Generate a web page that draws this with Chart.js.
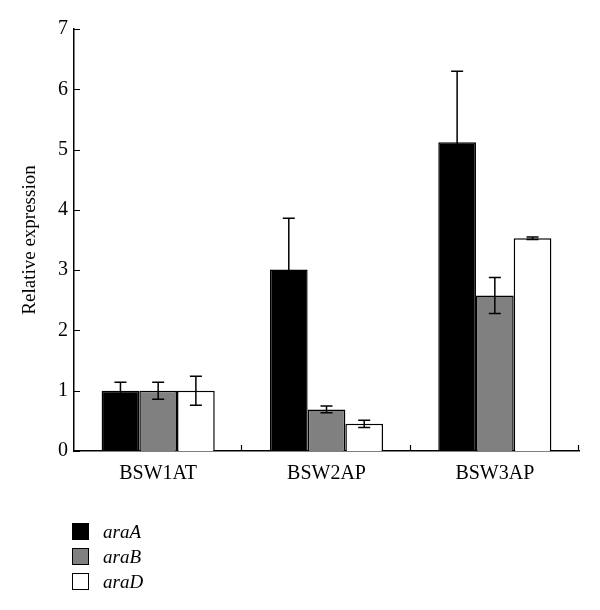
<!DOCTYPE html>
<html>
<head>
<meta charset="utf-8">
<script src="https://cdn.jsdelivr.net/npm/chart.js@4.4.1/dist/chart.umd.min.js"></script>
<style>
    body { margin: 0; background: #ffffff; }
    #caja { position: relative; width: 600px; height: 610px; }
    #leyenda { position: absolute; left: 72px; top: 519px; font-family: 'Liberation Serif', serif; font-style: italic; font-size: 19px; color: #000000; }
    .fila { display: flex; align-items: center; height: 25px; }
    .cuadro { width: 15px; height: 15px; border: 1px solid #000000; margin-right: 14px; }
</style>
</head>
<body>
<div id="caja">
    <canvas id="grafica"></canvas>
    <div id="leyenda"></div>
</div>
<script>
const categorias = ['BSW1AT', 'BSW2AP', 'BSW3AP'];
const genes = ['araA', 'araB', 'araD'];
const colores = ['#000000', '#808080', '#ffffff'];

// Valores medios y desviaciones
const araA = [1.0, 3.01, 5.12];
const araB = [1.0, 0.69, 2.58];
const araD = [1.0, 0.45, 3.53];
const errA = [0.14, 0.85, 1.18];
const errB = [0.14, 0.055, 0.30];
const errD = [0.24, 0.06, 0.02];

const yTicks = [0, 1, 2, 3, 4, 5, 6, 7];

const valores = [araA, araB, araD];
const errores = [errA, errB, errD];

const fuente = "'Liberation Serif', serif";

// Barras de error y marcas de los ejes hacia dentro
const extras = {
    id: 'extras',
    afterDatasetsDraw(chart) {
        const ctx = chart.ctx;
        const y = chart.scales.y;
        ctx.save();
        ctx.strokeStyle = '#000000';
        ctx.lineWidth = 1.5;
        chart.data.datasets.forEach(function (ds, i) {
            const meta = chart.getDatasetMeta(i);
            meta.data.forEach(function (barra, j) {
                const v = ds.data[j];
                const e = ds.errores[j];
                const arriba = y.getPixelForValue(v + e);
                const abajo = y.getPixelForValue(v - e);
                ctx.beginPath();
                ctx.moveTo(barra.x, arriba);
                ctx.lineTo(barra.x, abajo);
                ctx.moveTo(barra.x - 6, arriba);
                ctx.lineTo(barra.x + 6, arriba);
                ctx.moveTo(barra.x - 6, abajo);
                ctx.lineTo(barra.x + 6, abajo);
                ctx.stroke();
            });
        });
        ctx.restore();
    },
    afterDraw(chart) {
        const ctx = chart.ctx;
        const x = chart.scales.x;
        const y = chart.scales.y;
        const area = chart.chartArea;
        ctx.save();
        ctx.strokeStyle = '#000000';
        ctx.lineWidth = 1.2;
        ctx.beginPath();
        y.ticks.forEach(function (t) {
            const py = Math.round(y.getPixelForValue(t.value)) + 0.5;
            ctx.moveTo(area.left, py);
            ctx.lineTo(area.left + 6, py);
        });
        const mitad = (x.getPixelForValue(1) - x.getPixelForValue(0)) / 2;
        categorias.forEach(function (c, i) {
            const px = Math.round(x.getPixelForValue(i) + mitad) - 0.5;
            ctx.moveTo(px, area.bottom);
            ctx.lineTo(px, area.bottom - 6);
        });
        ctx.stroke();
        ctx.restore();
    },
};

const datasets = genes.map(function (g, i) {
    return {
        label: g,
        data: valores[i],
        errores: errores[i],
        backgroundColor: colores[i],
        borderColor: '#000000',
        borderWidth: 1.5,
        categoryPercentage: 0.672,
        barPercentage: 1.0,
    };
});

new Chart(document.getElementById('grafica'), {
    type: 'bar',
    data: {
        labels: categorias,
        datasets: datasets,
    },
    options: {
        responsive: true,
        maintainAspectRatio: false,
        animation: false,
        layout: {
            padding: { top: 29, right: 21, left: 0, bottom: 0 },
        },
        plugins: {
            legend: { display: false },
            tooltip: { enabled: false },
        },
        scales: {
            x: {
                grid: { display: false },
                border: { display: true, color: '#000000', width: 1.5 },
                ticks: {
                    color: '#000000',
                    padding: 3,
                    font: { family: fuente, size: 20 },
                },
                afterFit: function (scale) {
                    scale.height = 159;
                },
            },
            y: {
                min: 0,
                max: 7,
                afterBuildTicks: function (scale) {
                    scale.ticks = yTicks.map(function (v) { return { value: v }; });
                },
                grid: { display: false, drawTicks: false },
                border: { display: true, color: '#000000', width: 1.5 },
                ticks: {
                    color: '#000000',
                    padding: 6,
                    font: { family: fuente, size: 20 },
                },
                title: {
                    display: true,
                    text: 'Relative expression',
                    color: '#000000',
                    padding: { top: 19, bottom: 0 },
                    font: { family: fuente, size: 19 },
                },
                afterFit: function (scale) {
                    scale.width = 74;
                },
            },
        },
    },
    plugins: [extras],
});

// Leyenda vertical abajo a la izquierda
const leyenda = document.getElementById('leyenda');
genes.forEach(function (g, i) {
    const fila = document.createElement('div');
    fila.className = 'fila';
    const cuadro = document.createElement('span');
    cuadro.className = 'cuadro';
    cuadro.style.background = colores[i];
    const texto = document.createElement('span');
    texto.textContent = g;
    fila.appendChild(cuadro);
    fila.appendChild(texto);
    leyenda.appendChild(fila);
});
</script>
</body>
</html>
